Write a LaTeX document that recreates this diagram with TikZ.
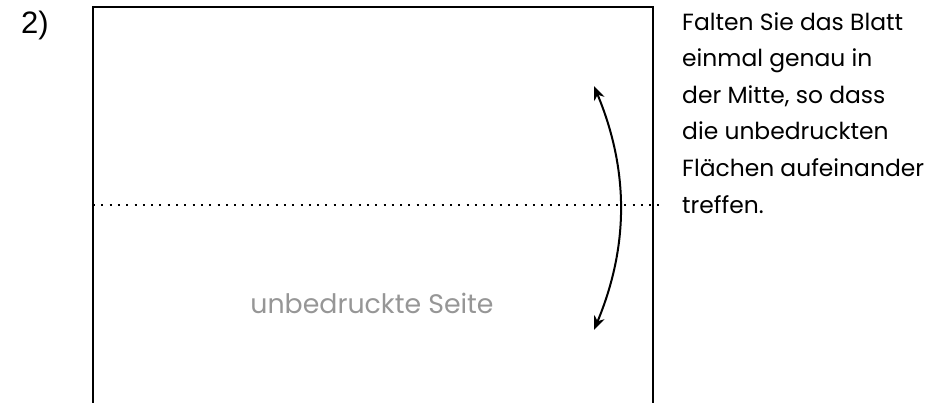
\documentclass[tikz,border=0pt]{standalone}
\usepackage{fontspec}
\setmainfont{Poppins}
\newfontfamily\numfont{Liberation Sans}
\usetikzlibrary{arrows.meta}
\definecolor{labelgray}{RGB}{150,150,150}
\tikzset{
  sheet/.style={line width=2pt, line cap=butt},
  foldline/.style={line width=2pt, dash pattern=on 2pt off 6.3pt},
  foldarrow/.style={line width=2pt, {Stealth[length=14pt,width=11pt]}-{Stealth[length=14pt,width=11pt]}},
  desc/.style={font=\fontsize{23.4pt}{36.6pt}\selectfont, align=left, inner sep=0pt},
}
\begin{document}
\begin{tikzpicture}[x=1pt,y=-1pt]
\useasboundingbox (0,0) rectangle (948,402);
\node[inner sep=0pt, anchor=base west, font=\numfont\fontsize{31pt}{36pt}\selectfont] (step) at (21,33) {2)};
\draw[sheet] (93,410) -- (93,7) -- (653,7) -- (653,410);
\coordinate (dl) at (93,205);
\coordinate (dr) at (660,205);
\draw[foldline] (dl) -- (dr);
\coordinate (atop) at (594,86);
\coordinate (abot) at (594,330);
\draw[foldarrow] (atop) .. controls (629,170) and (629,246) .. (abot);
\node[inner sep=0pt, anchor=base, text=labelgray, font=\fontsize{26.8pt}{30pt}\selectfont] (side) at (372,313) {unbedruckte Seite};
\node[desc, anchor=north west] (text) at (682,12) {Falten Sie das Blatt\\einmal genau in\\der Mitte, so dass\\die unbedruckten\\Flächen aufeinander\\treffen.};
\end{tikzpicture}
\end{document}
